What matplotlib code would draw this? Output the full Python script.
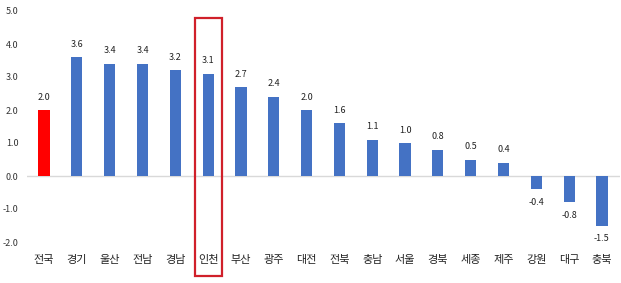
import matplotlib
matplotlib.use("Agg")
import matplotlib.pyplot as plt
from matplotlib.patches import Rectangle

plt.rcParams['font.family'] = ['Noto Sans CJK KR', 'DejaVu Sans']

regions = ['전국', '경기', '울산', '전남', '경남', '인천', '부산', '광주', '대전',
           '전북', '충남', '서울', '경북', '세종', '제주', '강원', '대구', '충북']
values = [2.0, 3.6, 3.4, 3.4, 3.2, 3.1, 2.7, 2.4, 2.0,
          1.6, 1.1, 1.0, 0.8, 0.5, 0.4, -0.4, -0.8, -1.5]
yticks = [-2.0, -1.0, 0.0, 1.0, 2.0, 3.0, 4.0, 5.0]
highlight = '인천'

colors = ['#FF0000' if r == '전국' else '#4472C4' for r in regions]

fig = plt.figure(figsize=(6.21, 2.83), dpi=100)
ax = fig.add_axes([27/621, 1 - 242/283, (620-27)/621, (242-11)/283])

x = list(range(len(regions)))
ax.bar(x, values, width=0.34, color=colors, zorder=3)
ax.axhline(0, color='#D9D9D9', lw=1, zorder=2)

for xi, v in zip(x, values):
    if v >= 0:
        ax.annotate(f'{v:.1f}', (xi, v), xytext=(0, 6), textcoords='offset points',
                    ha='center', va='bottom', fontsize=6.5, color='#222222')
    else:
        ax.annotate(f'{v:.1f}', (xi, v), xytext=(0, -6), textcoords='offset points',
                    ha='center', va='top', fontsize=6.5, color='#222222')

ax.set_xlim(-0.52, len(regions) - 1 + 0.55)
ax.set_ylim(-2.0, 5.0)
ax.set_yticks(yticks)
ax.set_yticklabels([f'{t:.1f}' for t in yticks], fontsize=6.5, color='#333333')
ax.set_xticks(x)
ax.set_xticklabels(regions, fontsize=8, color='#222222')
ax.tick_params(axis='y', length=0, pad=6)
ax.tick_params(axis='x', length=0, pad=9)
for s in ax.spines.values():
    s.set_visible(False)

hi = regions.index(highlight)
rect = Rectangle((hi - 0.41, -3.03), 0.82, 4.8 + 3.03, fill=False,
                 edgecolor='#D0202A', lw=1.6, clip_on=False, zorder=4)
ax.add_patch(rect)

fig.savefig('out.png', dpi=100)
